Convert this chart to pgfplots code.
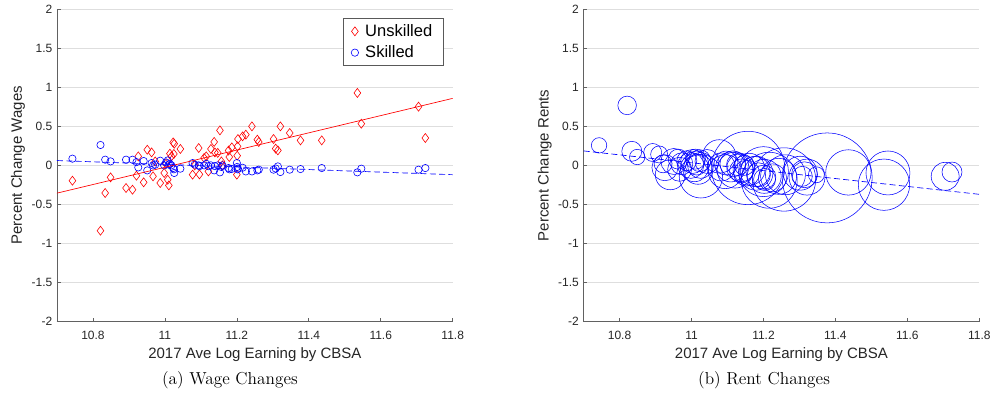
\documentclass[border=0pt]{standalone}
\usepackage{fontspec}
\usepackage{pgfplots}
\usepackage{pgfplotstable}
\pgfplotsset{compat=1.18}
\newfontfamily\lsans{Liberation Sans}
\definecolor{mred}{rgb}{1,0,0}
\definecolor{mblue}{rgb}{0,0,1}
\definecolor{axgray}{gray}{0.38}
\definecolor{tkgray}{gray}{0.15}

\pgfplotstableread{
x u s
10.743 -0.196 0.086
10.821 -0.835 0.261
10.834 -0.353 0.073
10.849 -0.153 0.051
10.892 -0.289 0.073
10.910 -0.311 0.073
10.921 -0.132 0.042
10.926 0.115 -0.026
10.941 -0.217 0.056
10.951 0.200 -0.064
10.963 0.166 0.030
10.967 -0.140 0.000
10.973 0.050 0.009
10.987 -0.225 0.060
10.998 -0.097 0.000
11.003 0.020 0.038
11.008 -0.183 0.064
11.011 -0.256 0.010
11.014 0.150 0.020
11.018 0.115 0.000
11.023 0.294 -0.034
11.026 0.277 -0.097
11.025 0.146 -0.050
11.043 0.210 -0.042
11.077 -0.119 0.030
11.083 0.000 0.010
11.094 0.222 0.000
11.096 -0.115 -0.010
11.109 0.095 0.000
11.115 0.115 0.020
11.121 -0.077 -0.010
11.128 0.210 0.000
11.137 0.300 -0.064
11.139 0.166 -0.010
11.147 0.160 0.000
11.153 0.448 -0.089
11.157 0.050 -0.020
11.160 0.000 0.000
11.177 0.190 -0.034
11.179 0.107 -0.050
11.186 0.230 -0.045
11.200 -0.119 0.030
11.201 0.124 -0.020
11.202 0.243 -0.050
11.203 0.337 -0.040
11.216 0.371 -0.030
11.225 0.393 -0.077
11.242 0.499 -0.077
11.257 0.329 -0.064
11.261 0.299 -0.055
11.302 0.337 -0.055
11.308 0.214 -0.040
11.314 0.192 -0.013
11.321 0.499 -0.085
11.347 0.414 -0.055
11.377 0.320 -0.047
11.436 0.320 -0.034
11.535 0.926 -0.089
11.546 0.533 -0.042
11.705 0.751 -0.055
11.724 0.350 -0.034
}\wagedata

\pgfplotstableread{
x rent r
10.743 0.256 7.7
10.821 0.767 9.3
10.834 0.180 10
10.849 0.107 7.7
10.892 0.165 9
10.910 0.140 8.5
10.921 0.020 9
10.926 -0.030 13
10.941 -0.120 15
10.951 0.050 13
10.963 0.080 10
10.967 -0.050 12
10.973 0.020 11
10.987 0.060 10
10.998 0.000 13
11.003 0.050 12
11.008 -0.030 14
11.011 0.080 10
11.014 0.030 12
11.018 -0.050 15
11.023 0.060 11
11.026 -0.140 21.7
11.025 0.000 13
11.043 0.050 12
11.077 0.115 16.7
11.083 -0.020 14
11.094 -0.080 17
11.096 0.030 12
11.109 -0.020 15
11.115 0.020 13
11.121 -0.060 18
11.128 0.010 11
11.137 -0.030 14
11.139 -0.070 12
11.147 0.000 10
11.153 -0.100 13
11.157 -0.033 36.7
11.160 -0.050 16
11.177 -0.080 15
11.179 -0.100 17
11.186 -0.120 12
11.200 -0.080 25
11.201 -0.150 12
11.202 -0.140 17
11.203 -0.180 11
11.216 -0.190 28
11.225 -0.160 14
11.242 -0.140 18
11.257 -0.180 31.7
11.261 -0.120 20
11.302 -0.100 17
11.308 -0.140 10
11.314 -0.120 13
11.321 -0.150 18
11.347 -0.120 8
11.377 -0.160 45
11.436 -0.090 22.7
11.535 -0.247 25.7
11.546 -0.097 22
11.705 -0.140 14
11.724 -0.085 10
}\rentdata

\pgfplotsset{
  mlab/.style={
    scale only axis, width=297pt, height=234.75pt,
    xmin=10.7, xmax=11.8, ymin=-2, ymax=2,
    xtick={10.8,11,11.2,11.4,11.6,11.8},
    ytick={-2,-1.5,-1,-0.5,0,0.5,1,1.5,2},
    axis x line*=bottom, axis y line*=left,
    axis line style={draw=axgray, line width=0.5pt, -},
    tick style={draw=axgray, line width=0.5pt},
    tick align=inside, major tick length=2.8pt,
    ymajorgrids, major grid style={draw=black!13, line width=0.5pt},
    ticklabel style={font=\lsans\fontsize{9}{10}\selectfont, text=tkgray},
    /pgf/number format/assume math mode=true,
    xticklabel style={yshift=-3.5pt},
    label style={font=\lsans\fontsize{11.25}{13}\selectfont, text=tkgray},
    xlabel style={at={(axis description cs:0.5,-0.1054)}, anchor=center},
    ylabel style={at={(axis description cs:-0.0985,0.5)}, anchor=center},
    clip mode=individual,
  }
}

\begin{document}
\begin{tikzpicture}
\begin{axis}[mlab, at={(0pt,0pt)}, anchor=south west,
  xlabel={2017 Ave Log Earning by CBSA},
  ylabel={Percent Change Wages},
  legend style={at={(0.977,0.970)}, anchor=north east, draw=black!65,
    line width=0.4pt, font=\lsans\fontsize{12.4}{15}\selectfont,
    inner xsep=6.3pt, inner ysep=2.3pt, row sep=1.5pt, column sep=3pt},
  legend cell align=left]
\addplot[only marks, mark=diamond, mark size=3.375pt, mred, mark options={line width=0.45pt}] table[x=x, y=u] {\wagedata};
\addlegendentry{Unskilled}
\addplot[only marks, mark=o, mark size=2.75pt, mblue, mark options={line width=0.45pt}] table[x=x, y=s] {\wagedata};
\addlegendentry{Skilled}
\addplot[mred, line width=0.5pt, forget plot] coordinates {(10.7,-0.355) (11.8,0.857)};
\addplot[mblue, line width=0.5pt, dash pattern=on 4.5pt off 2.5pt, forget plot] coordinates {(10.7,0.062) (11.8,-0.119)};
\node[font=\fontsize{13}{15}\selectfont, anchor=center] at (axis description cs:0.437,-0.1853) {(a) Wage Changes};
\end{axis}

\begin{axis}[mlab, at={(395.25pt,0pt)}, anchor=south west,
  xlabel={2017 Ave Log Earning by CBSA},
  ylabel={Percent Change Rents}]
\addplot[scatter, only marks, mark=o,
  scatter/use mapped color={draw=mblue, fill=none},
  mark options={line width=0.4pt},
  visualization depends on={\thisrow{r} \as \prad},
  scatter/@pre marker code/.append style={/tikz/mark size=0.75*\prad}]
  table[x=x, y=rent] {\rentdata};
\addplot[mblue, line width=0.5pt, dash pattern=on 4.5pt off 2.5pt] coordinates {(10.7,0.185) (11.8,-0.37)};
\node[font=\fontsize{13}{15}\selectfont, anchor=center] at (axis description cs:0.456,-0.1853) {(b) Rent Changes};
\end{axis}
\path[use as bounding box] (-42.75pt,-63pt) rectangle (703.5pt,241.5pt);
\end{tikzpicture}
\end{document}
